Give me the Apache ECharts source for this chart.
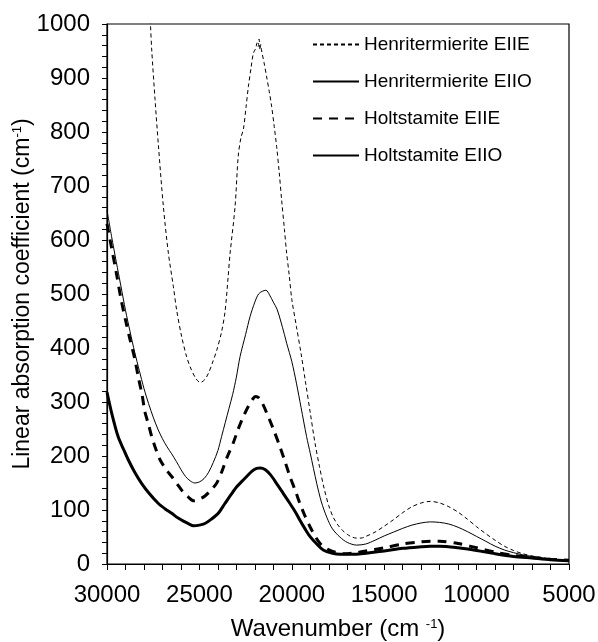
<!DOCTYPE html>
<html>
<head>
<meta charset="utf-8">
<script src="https://cdn.jsdelivr.net/npm/echarts@6/dist/echarts.min.js"></script>
<style>
  html, body { margin: 0; padding: 0; background: #fff; }
  #chart { width: 598px; height: 642px; }
</style>
</head>
<body>
<div id="chart"></div>
<script>
// axis ticks
const xTicks = [30000, 25000, 20000, 15000, 10000, 5000];
const yTicks = [0, 100, 200, 300, 400, 500, 600, 700, 800, 900, 1000];

const seriesNames = ['Henritermierite EIIE', 'Henritermierite EIIO', 'Holtstamite EIIE', 'Holtstamite EIIO'];

// [wavenumber, absorption]
const henriE = [
  [27750,1060],[27650,1000],[27580,952],[27400,860],[27220,776],[26950,662],[26680,576],[26410,514],
  [26230,470],[25960,421],[25700,385],[25500,365],[25200,344],[24950,336],[24700,342],[24500,354],
  [24300,372],[24060,396],[23800,430],[23610,468],[23450,530],[23340,575],[23070,662],[22900,755],
  [22750,790],[22620,805],[22480,845],[22350,884],[22200,920],[22080,946],[21950,955],[21880,965],
  [21820,958],[21770,972],[21720,952],[21680,962],[21630,950],[21500,928],[21360,902],[21220,875],
  [21090,847],[20950,810],[20820,773],[20680,725],[20550,674],[20400,620],[20280,576],[20140,535],
  [20000,490],[19750,440],[19500,390],[19250,335],[19000,280],[18750,225],[18500,180],[18250,140],
  [18000,108],[17750,86],[17500,72],[17250,62],[17000,55],[16750,50],[16500,48],[16250,48],
  [16000,51],[15500,59],[15000,70],[14500,82],[14000,95],[13500,106],[13000,113],[12500,116],
  [12000,113],[11500,106],[11000,96],[10500,83],[10000,69],[9500,56],[9000,44],[8500,33],
  [8000,25],[7500,19],[7000,15],[6500,12],[6000,10],[5500,8],[5000,7]
];
const henriO = [
  [30000,655],[29750,606],[29500,560],[29250,515],[29000,470],[28750,430],[28500,392],[28250,358],
  [28000,325],[27750,297],[27500,272],[27250,250],[27000,232],[26750,217],[26500,204],[26250,190],
  [26000,175],[25750,162],[25500,154],[25250,150],[25000,152],[24750,158],[24500,170],[24250,188],
  [24000,210],[23800,236],[23600,262],[23400,288],[23200,314],[23000,346],[22800,384],[22500,425],
  [22260,458],[22000,485],[21800,500],[21600,505],[21400,507],[21200,498],[21000,485],[20800,472],
  [20600,450],[20400,425],[20270,408],[20000,375],[19750,335],[19500,290],[19200,236],[19000,205],
  [18650,149],[18400,115],[18100,86],[17800,65],[17400,50],[17000,40],[16500,35],[16000,37],
  [15500,44],[15000,52],[14500,59],[14000,66],[13500,72],[13000,76],[12500,78],[12000,77],
  [11500,74],[11000,68],[10500,60],[10000,51],[9500,42],[9000,33],[8500,26],[8000,21],
  [7500,17],[7000,14],[6500,11],[6000,9],[5500,8],[5000,6]
];
const holtE = [
  [30000,630],[29750,585],[29500,540],[29250,492],[29000,452],[28750,415],[28500,380],[28300,345],
  [28100,313],[27950,282],[27750,258],[27580,236],[27350,212],[27130,193],[26800,175],[26500,162],
  [26200,148],[25900,134],[25600,124],[25300,117],[25000,120],[24700,126],[24400,136],[24060,150],
  [23800,170],[23500,198],[23170,224],[22900,250],[22620,273],[22350,292],[22080,307],[21950,310],
  [21800,308],[21600,298],[21360,280],[21000,250],[20640,217],[20350,188],[20100,162],[19800,135],
  [19560,112],[19300,90],[19000,68],[18750,52],[18470,38],[18100,28],[17750,23],[17200,19],
  [16500,21],[16000,24],[15000,30],[14000,37],[13000,41],[12500,42],[12000,42],[11000,38],
  [10000,30],[9000,22],[8000,16],[7000,12],[6000,9],[5000,7]
];
const holtO = [
  [30000,318],[29750,280],[29400,236],[29100,212],[28850,193],[28500,170],[28120,149],[27700,130],
  [27220,112],[26850,102],[26500,94],[26150,85],[25780,78],[25550,74],[25330,71],[25000,72],
  [24700,75],[24350,83],[23980,94],[23620,112],[23300,128],[22980,143],[22700,153],[22440,162],
  [22150,172],[21900,177],[21700,178],[21450,175],[21150,165],[20820,149],[20450,130],[20100,112],
  [19800,96],[19560,81],[19300,66],[19020,51],[18650,37],[18300,26],[17800,20],[17400,18],
  [16500,18],[16000,20],[15000,24],[14000,29],[13000,32],[12500,33],[12000,33],[11000,30],
  [10000,25],[9000,19],[8000,14],[7000,11],[6000,8],[5000,6]
];

const FONT = '"Liberation Sans", Arial, sans-serif';

function makeLine(name, data, width, dash) {
  return {
    name: name,
    type: 'line',
    data: data,
    showSymbol: false,
    symbol: 'none',
    smooth: 0.3,
    clip: true,
    itemStyle: { color: '#000' },
    lineStyle: { color: '#000', width: width, type: dash }
  };
}

const chart = echarts.init(document.getElementById('chart'));
chart.setOption({
  animation: false,
  backgroundColor: '#fff',
  textStyle: { fontFamily: FONT, color: '#000' },
  grid: {
    left: 107, right: 29, top: 24, bottom: 78,
    containLabel: false,
    outerBoundsMode: 'none',
    show: true, borderColor: '#000', borderWidth: 1.2
  },
  legend: {
    orient: 'vertical',
    left: 307,
    top: 29,
    itemWidth: 46,
    itemHeight: 12,
    itemGap: 16,
    data: seriesNames,
    itemStyle: { opacity: 0 },
    textStyle: { fontFamily: FONT, fontSize: 19, color: '#000', lineHeight: 21 }
  },
  xAxis: {
    type: 'value',
    min: xTicks[xTicks.length - 1],
    max: xTicks[0],
    interval: 5000,
    inverse: true,
    name: 'Wavenumber (cm {sup|-1})',
    nameLocation: 'middle',
    nameGap: 53,
    nameTextStyle: {
      fontFamily: FONT, fontSize: 24, color: '#000',
      rich: { sup: { fontFamily: FONT, fontSize: 13, color: '#000', padding: [0, 0, 10, 0] } }
    },
    axisLine: { onZero: false, lineStyle: { color: '#000', width: 1.2 } },
    axisTick: { show: true, length: 6, inside: false, lineStyle: { color: '#000' } },
    minorTick: { show: true, splitNumber: 5, length: 6, lineStyle: { color: '#000' } },
    axisLabel: { fontFamily: FONT, fontSize: 24, color: '#000', margin: 19, formatter: function (v) { return String(v); } },
    splitLine: { show: false }
  },
  yAxis: {
    type: 'value',
    min: yTicks[0],
    max: yTicks[yTicks.length - 1],
    interval: 100,
    name: 'Linear absorption coefficient (cm{sup|-1})',
    nameLocation: 'middle',
    nameGap: 73,
    nameMoveOverlap: false,
    nameTextStyle: {
      fontFamily: FONT, fontSize: 23, color: '#000',
      rich: { sup: { fontFamily: FONT, fontSize: 13, color: '#000', padding: [0, 0, 10, 0] } }
    },
    axisLine: { show: true, lineStyle: { color: '#000', width: 1.2 } },
    axisTick: { show: true, length: 5, inside: false, lineStyle: { color: '#000' } },
    minorTick: { show: true, splitNumber: 5, length: 5, lineStyle: { color: '#000' } },
    axisLabel: { fontFamily: FONT, fontSize: 24, color: '#000', margin: 17, formatter: function (v) { return String(v); } },
    splitLine: { show: false }
  },
  series: [
    makeLine(seriesNames[0], henriE, 1, [4, 3]),
    makeLine(seriesNames[1], henriO, 1, 'solid'),
    makeLine(seriesNames[2], holtE, 3, [9, 7]),
    makeLine(seriesNames[3], holtO, 3, 'solid')
  ]
});
window.addEventListener('resize', function () { chart.resize(); });
</script>
</body>
</html>
